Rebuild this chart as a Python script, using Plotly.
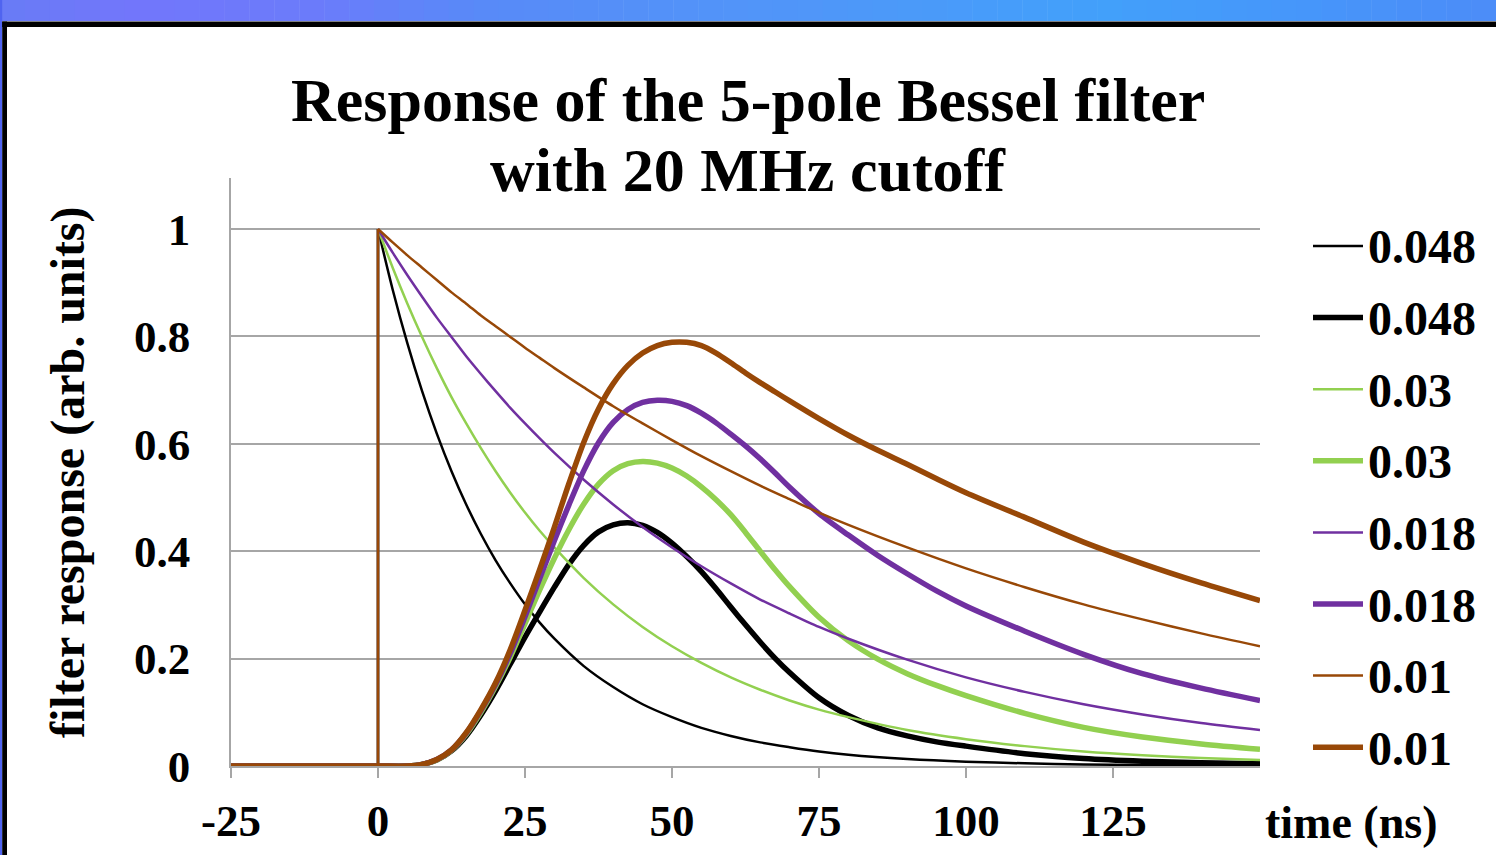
import plotly.graph_objects as go

# ---------------- data ----------------
labels = ["0.048", "0.048", "0.03", "0.03", "0.018", "0.018", "0.01", "0.01"]

t_thin = [-25, 0, 0, 2.5, 5, 7.5, 10, 12.5, 15, 17.5, 20, 22.5, 25, 27.5, 30, 35, 40, 45,
          50, 55, 60, 65, 70, 75, 80, 90, 100, 110, 120, 130, 140, 150]
thin_048 = [0, 0, 1, 0.887, 0.787, 0.698, 0.619, 0.549, 0.487, 0.432, 0.383, 0.340, 0.301, 0.267,
            0.237, 0.186, 0.147, 0.115, 0.091, 0.071, 0.056, 0.044, 0.035, 0.027, 0.021, 0.013,
            0.008, 0.005, 0.003, 0.002, 0.001, 0.001]
thin_030 = [0, 0, 1, 0.928, 0.861, 0.799, 0.741, 0.687, 0.638, 0.592, 0.549, 0.509, 0.472, 0.438,
            0.407, 0.350, 0.301, 0.259, 0.223, 0.192, 0.165, 0.142, 0.122, 0.105, 0.091, 0.067,
            0.050, 0.037, 0.027, 0.020, 0.015, 0.011]
thin_018 = [0, 0, 1, 0.956, 0.914, 0.874, 0.835, 0.799, 0.763, 0.730, 0.698, 0.667, 0.638, 0.610,
            0.583, 0.533, 0.487, 0.445, 0.407, 0.372, 0.340, 0.310, 0.284, 0.259, 0.237, 0.198,
            0.165, 0.138, 0.115, 0.096, 0.080, 0.067]
thin_010 = [0, 0, 1, 0.975, 0.951, 0.928, 0.905, 0.882, 0.861, 0.839, 0.819, 0.799, 0.779, 0.760,
            0.741, 0.705, 0.670, 0.638, 0.607, 0.577, 0.549, 0.522, 0.497, 0.472, 0.449, 0.407,
            0.368, 0.333, 0.301, 0.273, 0.247, 0.223]

t_thick = [-25, 0, 5, 7.5, 10, 12.5, 15, 17.5, 20, 22.5, 25, 27.5, 30, 32.5, 35, 37.5, 40, 42.5,
           45, 47.5, 50, 52.5, 55, 57.5, 60, 62.5, 65, 67.5, 70, 75, 80, 85, 90, 95, 100,
           110, 120, 130, 140, 150]
thick_048 = [0, 0, 0, 0.003, 0.011, 0.028, 0.056, 0.095, 0.140, 0.190, 0.240, 0.287, 0.333, 0.376,
             0.411, 0.436, 0.449, 0.453, 0.448, 0.435, 0.415, 0.390, 0.362, 0.330, 0.296, 0.263,
             0.231, 0.201, 0.174, 0.127, 0.094, 0.071, 0.056, 0.045, 0.037,
             0.023, 0.014, 0.009, 0.006, 0.004]
thick_030 = [0, 0, 0, 0.003, 0.011, 0.029, 0.059, 0.100, 0.148, 0.203, 0.265, 0.328, 0.387, 0.441,
             0.488, 0.525, 0.550, 0.563, 0.567, 0.564, 0.555, 0.540, 0.520, 0.496, 0.468, 0.435,
             0.400, 0.366, 0.334, 0.277, 0.233, 0.199, 0.172, 0.150, 0.131,
             0.098, 0.072, 0.054, 0.041, 0.031]
thick_018 = [0, 0, 0, 0.003, 0.012, 0.030, 0.061, 0.103, 0.152, 0.210, 0.278, 0.349, 0.420, 0.487,
             0.550, 0.602, 0.640, 0.664, 0.677, 0.681, 0.679, 0.671, 0.657, 0.639, 0.618, 0.596,
             0.572, 0.546, 0.519, 0.470, 0.430, 0.392, 0.358, 0.326, 0.298,
             0.251, 0.208, 0.172, 0.145, 0.122]
thick_010 = [0, 0, 0, 0.003, 0.012, 0.030, 0.062, 0.105, 0.155, 0.217, 0.290, 0.366, 0.445, 0.527,
             0.603, 0.665, 0.712, 0.746, 0.769, 0.783, 0.789, 0.789, 0.783, 0.769, 0.751, 0.732,
             0.714, 0.697, 0.680, 0.647, 0.616, 0.588, 0.562, 0.535, 0.509,
             0.463, 0.417, 0.377, 0.341, 0.308]

x_ticks = [-25, 0, 25, 50, 75, 100, 125]
y_ticks = [0, 0.2, 0.4, 0.6, 0.8, 1]
y_tick_text = ["0", "0.2", "0.4", "0.6", "0.8", "1"]

# ---------------- styling ----------------
FONT = "Liberation Serif"
BLACK, GREEN, PURPLE, ORANGE = "#000000", "#92d050", "#7030a0", "#984807"
GRID = "#a6a6a6"
THIN, THICK = 2.5, 5.5

W, H = 1496, 855
L, R, T, B = 231, 1260, 178, 766


def px(p):
    return (p - L) / (R - L)


def py(p):
    return (B - p) / (B - T)


series = [
    (t_thin, thin_048, BLACK, THIN, True),
    (t_thick, thick_048, BLACK, THICK, False),
    (t_thin, thin_030, GREEN, THIN, True),
    (t_thick, thick_030, GREEN, THICK, False),
    (t_thin, thin_018, PURPLE, THIN, True),
    (t_thick, thick_018, PURPLE, THICK, False),
    (t_thin, thin_010, ORANGE, THIN, True),
    (t_thick, thick_010, ORANGE, THICK, False),
]

fig = go.Figure()
for i, (xs, ys, col, w, has_step) in enumerate(series):
    if has_step:
        # step at t = 0 drawn straight, the decay drawn as a smooth curve
        fig.add_trace(go.Scatter(x=xs[:3], y=ys[:3], mode="lines", showlegend=False,
                                 name=labels[i], line=dict(color=col, width=w)))
        fig.add_trace(go.Scatter(x=xs[2:], y=ys[2:], mode="lines", showlegend=False,
                                 name=labels[i],
                                 line=dict(color=col, width=w, shape="spline", smoothing=0.8)))
    else:
        fig.add_trace(go.Scatter(x=xs, y=ys, mode="lines", showlegend=False, name=labels[i],
                                 line=dict(color=col, width=w, shape="spline", smoothing=0.8)))

# slide frame: gradient band on top, black border
band_stops = [(0, (104, 124, 246)), (130, (114, 118, 251)), (330, (106, 124, 250)),
              (480, (88, 138, 248)), (800, (80, 150, 249)), (1100, (66, 160, 250)),
              (1300, (70, 150, 250)), (1496, (76, 140, 248))]
shapes = []
n_seg = 60
for k in range(n_seg):
    x0 = W * k / n_seg
    x1 = W * (k + 1) / n_seg
    xm = (x0 + x1) / 2
    for j in range(len(band_stops) - 1):
        a, ca = band_stops[j]
        b, cb = band_stops[j + 1]
        if a <= xm <= b:
            f = (xm - a) / (b - a)
            c = tuple(int(round(ca[m] + (cb[m] - ca[m]) * f)) for m in range(3))
            break
    shapes.append(dict(type="rect", xref="paper", yref="paper", x0=px(x0), x1=px(x1 + 0.5),
                       y0=py(0), y1=py(21), line=dict(width=0), fillcolor=f"rgb{c}", layer="below"))
shapes.append(dict(type="rect", xref="paper", yref="paper", x0=px(0), x1=px(2.2), y0=py(0), y1=py(855),
                   line=dict(width=0), fillcolor="rgb(80,100,240)", layer="below"))
shapes.append(dict(type="rect", xref="paper", yref="paper", x0=px(2.2), x1=px(W), y0=py(21.5), y1=py(27),
                   line=dict(width=0), fillcolor="black", layer="below"))
shapes.append(dict(type="rect", xref="paper", yref="paper", x0=px(2.2), x1=px(7), y0=py(21.5), y1=py(855),
                   line=dict(width=0), fillcolor="black", layer="below"))

annotations = [
    dict(text="Response of the 5-pole Bessel filter", xref="paper", yref="paper",
         x=px(748), y=py(100), xanchor="center", yanchor="middle", showarrow=False,
         font=dict(family=FONT, size=62, color="black", weight="bold")),
    dict(text="with 20 MHz cutoff", xref="paper", yref="paper",
         x=px(748), y=py(170), xanchor="center", yanchor="middle", showarrow=False,
         font=dict(family=FONT, size=62, color="black", weight="bold")),
    dict(text="filter response (arb. units)", xref="paper", yref="paper", textangle=-90,
         x=px(68), y=py(472), xanchor="center", yanchor="middle", showarrow=False,
         font=dict(family=FONT, size=48, color="black", weight="bold")),
    dict(text="time (ns)", xref="paper", yref="paper",
         x=px(1351), y=py(822), xanchor="center", yanchor="middle", showarrow=False,
         font=dict(family=FONT, size=46, color="black", weight="bold")),
]

# legend drawn beside the plot: sample line + label per series
LEG_TOP, LEG_STEP = 246, 71.6
for i, (xs, ys, col, w, has_step) in enumerate(series):
    yc = LEG_TOP + LEG_STEP * i
    shapes.append(dict(type="line", xref="paper", yref="paper", x0=px(1313), x1=px(1363),
                       y0=py(yc), y1=py(yc), line=dict(color=col, width=w)))
    annotations.append(dict(text=labels[i], xref="paper", yref="paper", x=px(1366), y=py(yc + 1),
                            xanchor="left", yanchor="middle", showarrow=False,
                            font=dict(family=FONT, size=48, color="black", weight="bold")))

fig.update_layout(
    width=W, height=H,
    margin=dict(l=L, r=W - R, t=T, b=H - B, pad=0),
    paper_bgcolor="white", plot_bgcolor="white",
    font=dict(family=FONT, color="black", size=45, weight="bold"),
    showlegend=False,
    shapes=shapes,
    annotations=annotations,
)
fig.update_xaxes(range=[-25, 150], tickvals=x_ticks, ticktext=[str(v) for v in x_ticks],
                 showgrid=False, zeroline=False, showline=True, linecolor=GRID, linewidth=1.5,
                 ticks="outside", ticklen=10, tickcolor=GRID, tickwidth=1.5,
                 ticklabelstandoff=4, automargin=False,
                 tickfont=dict(family=FONT, size=45, color="black", weight="bold"))
fig.update_yaxes(range=[0, 1.095], tickvals=y_ticks, ticktext=y_tick_text,
                 showgrid=True, gridcolor=GRID, gridwidth=1.5, zeroline=False,
                 showline=True, linecolor=GRID, linewidth=1.5, ticks="", ticklabelstandoff=30,
                 automargin=False,
                 tickfont=dict(family=FONT, size=45, color="black", weight="bold"))

fig.write_html("out.html")
